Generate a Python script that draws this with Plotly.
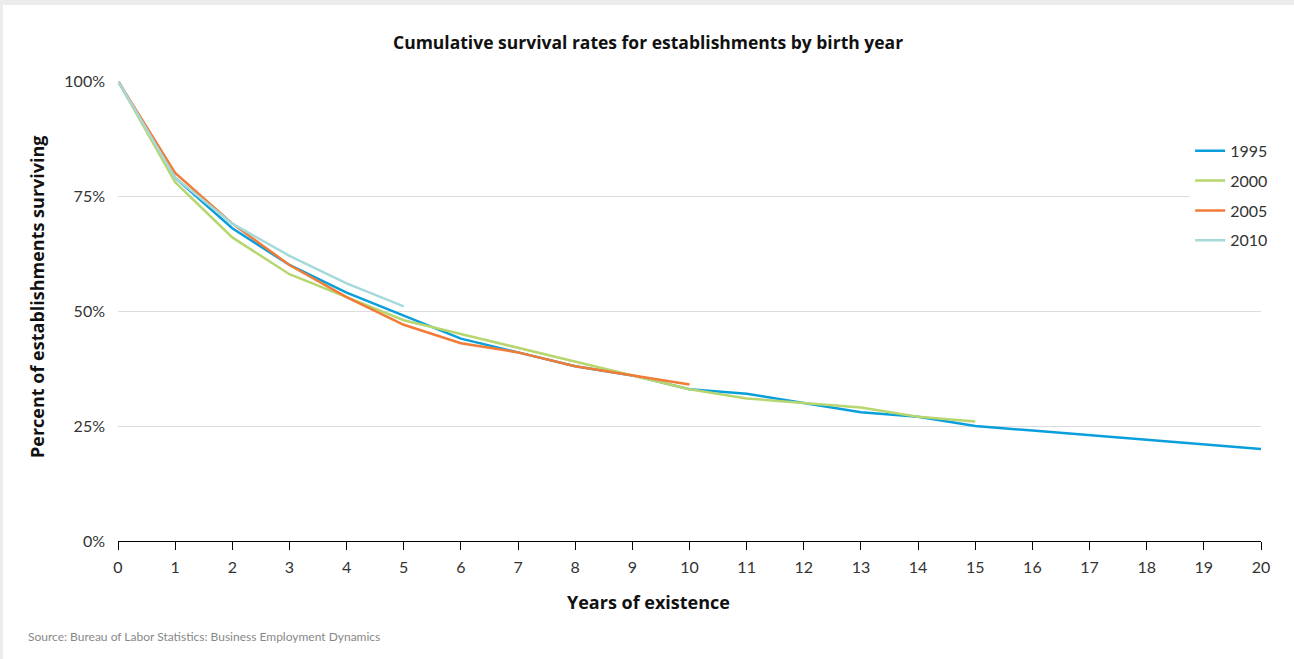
import plotly.graph_objects as go

# survival share (%) by years of existence, per birth-year cohort
years = list(range(21))
cohort_1995 = [100, 79, 68, 60, 54, 49, 44, 41, 38, 36, 33, 32, 30, 28, 27, 25, 24, 23, 22, 21, 20]
cohort_2000 = [100, 78, 66, 58, 53, 48, 45, 42, 39, 36, 33, 31, 30, 29, 27, 26]
cohort_2005 = [100, 80, 69, 60, 53, 47, 43, 41, 38, 36, 34]
cohort_2010 = [100, 79, 69, 62, 56, 51]
y_ticks = [0, 25, 50, 75, 100]
y_tick_labels = ["0%", "25%", "50%", "75%", "100%"]

series = [
    ("1995", cohort_1995, "#0a9fdc"),
    ("2000", cohort_2000, "#b7d66f"),
    ("2005", cohort_2005, "#f27b35"),
    ("2010", cohort_2010, "#a5d9da"),
]

fig = go.Figure()
for name, vals, color in series:
    fig.add_trace(go.Scatter(
        x=years[:len(vals)], y=vals, name=name, mode="lines", legendgroup=name,
        line=dict(color=color, width=2.5),
    ))

fig.update_layout(
    width=1294, height=659,
    margin=dict(l=118, r=33, t=81, b=118),
    paper_bgcolor="#ececec", plot_bgcolor="white",
    font=dict(family="Lato, Open Sans, sans-serif", size=16, color="#333"),
    showlegend=True,
    legend=dict(
        x=0.938, y=0.885, xanchor="left", yanchor="top",
        bgcolor="white", font=dict(size=16, color="#333"),
        tracegroupgap=6, itemwidth=30,
    ),
    # white card on the grey page
    shapes=[dict(
        type="rect", xref="paper", yref="paper", layer="below",
        x0=-0.1006, x1=1.03, y0=-0.26, y1=1.1652,
        fillcolor="white", line=dict(width=0),
    )],
    annotations=[
        dict(text="<b>Cumulative survival rates for establishments by birth year</b>",
             xref="paper", yref="paper", x=(648 - 118) / 1143, y=(541 - 42) / 460,
             showarrow=False, xanchor="center", yanchor="middle",
             font=dict(family="Open Sans, sans-serif", size=17.5, color="#111")),
        dict(text="<b>Years of existence</b>",
             xref="paper", yref="paper", x=(648 - 118) / 1143, y=(541 - 602) / 460,
             showarrow=False, xanchor="center", yanchor="middle",
             font=dict(family="Open Sans, sans-serif", size=18, color="#111")),
        dict(text="<b>Percent of establishments surviving</b>",
             xref="paper", yref="paper", x=(37 - 118) / 1143, y=(541 - 297) / 460,
             showarrow=False, xanchor="center", yanchor="middle", textangle=-90,
             font=dict(family="Open Sans, sans-serif", size=18, color="#111")),
        dict(text="Source: Bureau of Labor Statistics: Business Employment Dynamics",
             xref="paper", yref="paper", x=(26 - 118) / 1143, y=(541 - 636) / 460,
             showarrow=False, xanchor="left", yanchor="middle",
             font=dict(family="Lato, sans-serif", size=12, color="#888")),
    ],
)

fig.update_xaxes(
    range=[0, 20], tickmode="array", tickvals=years,
    showline=True, linecolor="black", linewidth=1,
    ticks="outside", ticklen=8, tickcolor="black", tickwidth=1,
    ticklabelstandoff=4,
    showgrid=False, zeroline=False,
    tickfont=dict(size=16, color="#333"),
)
fig.update_yaxes(
    range=[0, 100], tickmode="array", tickvals=y_ticks, ticktext=y_tick_labels,
    showgrid=True, gridcolor="#dcdcdc", gridwidth=1,
    zeroline=False, showline=False, ticks="",
    ticklabelstandoff=12,
    tickfont=dict(size=16, color="#333"),
)

# the page body adds an 8px margin; drop it so the figure sits at the window's corner
fig.write_html("out.html", config={"displayModeBar": False},
               post_script="document.body.style.margin = '0';")
